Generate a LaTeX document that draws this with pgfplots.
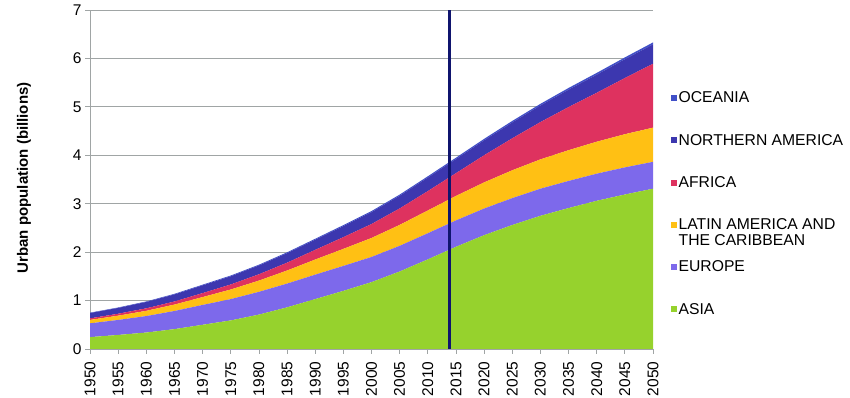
\documentclass[border=0pt]{standalone}
\usepackage{pgfplots}
\pgfplotsset{compat=1.18}
\usepackage{pgfplotstable}
\usepackage{fontspec}
\setmainfont{Liberation Sans}
\definecolor{cAsia}{RGB}{150,210,45}
\definecolor{cEurope}{RGB}{125,105,235}
\definecolor{cLatin}{RGB}{255,192,20}
\definecolor{cAfrica}{RGB}{222,50,95}
\definecolor{cNA}{RGB}{60,55,175}
\definecolor{cOce}{RGB}{65,80,200}
\definecolor{cLine}{RGB}{15,20,110}
\definecolor{cGrid}{RGB}{160,165,165}
\pgfplotstableread{
year asia europe latin africa na oce
1950 0.245 0.285 0.070 0.032 0.110 0.008
1955 0.290 0.310 0.088 0.040 0.120 0.009
1960 0.340 0.340 0.108 0.052 0.132 0.010
1965 0.410 0.375 0.132 0.064 0.146 0.012
1970 0.500 0.410 0.162 0.082 0.160 0.014
1975 0.590 0.440 0.198 0.104 0.170 0.015
1980 0.710 0.470 0.232 0.130 0.182 0.016
1985 0.860 0.490 0.270 0.162 0.196 0.018
1990 1.030 0.505 0.312 0.200 0.210 0.019
1995 1.200 0.515 0.352 0.242 0.228 0.021
2000 1.380 0.520 0.392 0.288 0.246 0.022
2005 1.600 0.530 0.432 0.340 0.262 0.024
2010 1.850 0.540 0.470 0.400 0.280 0.026
2015 2.110 0.545 0.505 0.470 0.292 0.028
2020 2.350 0.550 0.540 0.560 0.310 0.029
2025 2.560 0.555 0.575 0.660 0.328 0.031
2030 2.750 0.560 0.605 0.770 0.344 0.033
2035 2.910 0.560 0.635 0.890 0.360 0.035
2040 3.060 0.560 0.660 1.010 0.374 0.037
2045 3.190 0.560 0.685 1.160 0.388 0.038
2050 3.310 0.555 0.705 1.320 0.400 0.040
}\urban
\begin{document}
\begin{tikzpicture}
\useasboundingbox (0,0) rectangle (850pt,398pt);
\begin{axis}[
  at={(90pt,49pt)}, anchor=south west,
  scale only axis, width=563pt, height=339pt,
  xmin=1950, xmax=2050, ymin=0, ymax=7,
  stack plots=y,
  axis lines=left,
  axis line style={draw=cGrid, -},
  xtick={1950,1955,...,2050},
  ytick={0,1,...,7},
  xticklabel style={rotate=90, anchor=east, font=\fontsize{15.5}{17}\selectfont},
  xticklabel shift=4pt,
  yticklabel style={font=\fontsize{15.5}{17}\selectfont},
  /pgf/number format/1000 sep={},
  /pgf/number format/assume math mode=true,
  tick style={draw=cGrid, thick},
  tick align=outside,
  major tick length=5pt,
  ymajorgrids,
  grid style={draw=cGrid, thick},
  ylabel={\bfseries Urban population (billions)},
  every axis y label/.style={at={(rel axis cs:0,0.505)}, xshift=-66pt, rotate=90, anchor=center, font=\fontsize{15}{17}\selectfont},
  legend style={draw=none, fill=none, at={(1.031,0.765)}, anchor=north west,
    font=\fontsize{15.7}{17}\selectfont, row sep=25.8pt, inner sep=0pt,
    cells={anchor=west}},
  legend reversed,
  legend image code/.code={\fill[#1] (0pt,-3pt) rectangle (6pt,3pt);},
]
\addplot[fill=cAsia, draw=none] table[x=year,y=asia] {\urban} \closedcycle;
\addlegendentry{ASIA}
\addplot[fill=cEurope, draw=none] table[x=year,y=europe] {\urban} \closedcycle;
\addlegendentry{EUROPE}
\addplot[fill=cLatin, draw=none] table[x=year,y=latin] {\urban} \closedcycle;
\addlegendentry{\raisebox{0pt}[\height][0pt]{\parbox[t]{170pt}{LATIN AMERICA AND\\[-1pt]THE CARIBBEAN}}}
\addplot[fill=cAfrica, draw=none] table[x=year,y=africa] {\urban} \closedcycle;
\addlegendentry{AFRICA}
\addplot[fill=cNA, draw=none] table[x=year,y=na] {\urban} \closedcycle;
\addlegendentry{NORTHERN AMERICA}
\addplot[fill=cOce, draw=none] table[x=year,y=oce] {\urban} \closedcycle;
\addlegendentry{OCEANIA}
\end{axis}
\begin{axis}[
  at={(90pt,49pt)}, anchor=south west,
  scale only axis, width=563pt, height=339pt,
  xmin=1950, xmax=2050, ymin=0, ymax=7,
  hide axis,
]
\addplot[draw=cLine, line width=2.8pt] coordinates {(2013.9,-0.05) (2013.9,7)};
\end{axis}
\end{tikzpicture}
\end{document}
